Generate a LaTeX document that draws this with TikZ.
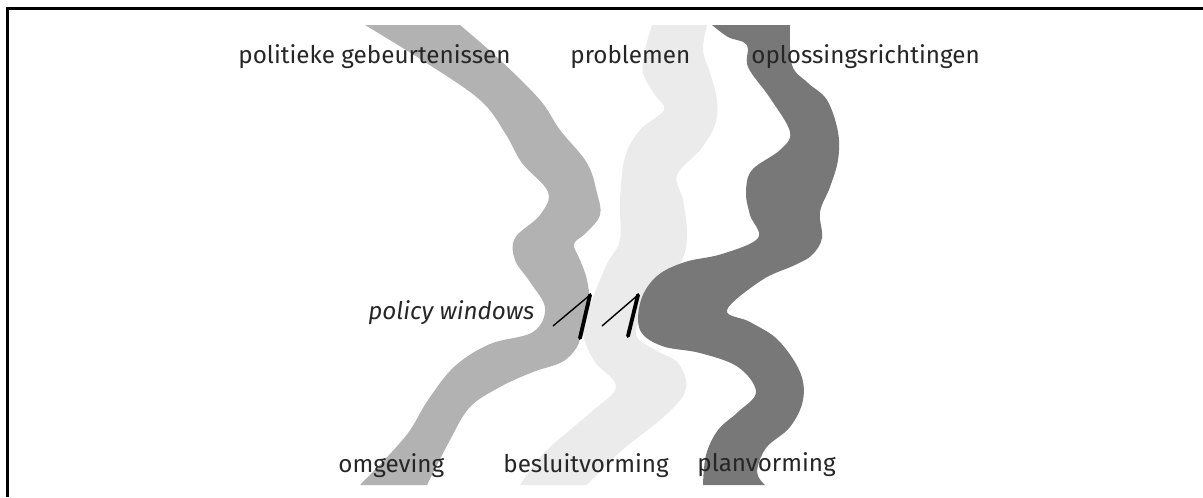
\documentclass[tikz,border=0pt]{standalone}
\usepackage{fontspec}
\setmainfont{Fira Sans}
\definecolor{envband}{gray}{0.70}
\definecolor{decband}{gray}{0.92}
\definecolor{planband}{gray}{0.47}
\definecolor{labtext}{gray}{0.15}
\tikzset{
  lab/.style={font=\fontsize{13.8}{16}\selectfont,text=labtext,inner sep=0pt,anchor=base west},
  itlab/.style={lab,font=\fontsize{13.8}{16}\selectfont\itshape},
  thinwin/.style={line width=0.8pt},
  thickwin/.style={line width=2.2pt,line cap=round},
  rimline/.style={line width=1.8pt},
}
\begin{document}
\begin{tikzpicture}[x=0.02cm,y=-0.02cm]
  \useasboundingbox (0,0) rectangle (1203,497);
  \draw[rimline] (7.5,497) -- (7.5,8.5) -- (1203,8.5);
  % omgeving
  \fill[envband] plot[smooth,tension=0.6] coordinates {(365,25) (425,62) (480,100) (505,133) (522,163) (548,192) (540,215) (515,238) (515,260) (530,282) (545,308) (533,332) (490,344) (455,366) (428,400) (405,437) (360,485)}
    -- plot[smooth,tension=0.6] coordinates {(427,485) (450,440) (470,407) (500,387) (533,372) (562,362) (577,347) (582,330) (590,310) (587,280) (580,260) (574,244) (586,233) (600,215) (597,193) (587,163) (560,130) (540,100) (500,60) (460,25)}
    -- cycle;
  % besluitvorming
  \fill[decband] plot[smooth,tension=0.6] coordinates {(652,25) (645,50) (643,73) (655,95) (664,110) (640,130) (625,157) (620,200) (620,240) (608,262) (595,292) (585,320) (584,338) (595,362) (616,387) (590,413) (545,452) (520,485)}
    -- plot[smooth,tension=0.6] coordinates {(587,485) (620,452) (668,413) (686,388) (678,363) (655,350) (636,335) (645,310) (665,282) (683,258) (687,232) (683,200) (677,175) (700,150) (715,125) (717,100) (710,73) (703,50) (707,25)}
    -- cycle;
  % planvorming
  \fill[planband] plot[smooth,tension=0.6] coordinates {(712,25) (728,37) (747,45) (748,67) (770,98) (790,132) (780,150) (752,170) (746,192) (750,215) (758,238) (722,254) (685,262) (657,276) (641,300) (640,330) (662,346) (700,353) (738,367) (756,392) (738,412) (718,430) (706,455) (703,485)}
    -- plot[smooth,tension=0.6] coordinates {(765,485) (757,472) (766,448) (790,427) (803,400) (800,372) (778,340) (750,322) (727,310) (762,280) (795,265) (812,255) (822,238) (820,212) (830,187) (838,160) (838,132) (827,100) (808,83) (792,65) (790,25)}
    -- cycle;
  % windows
  \draw[thinwin] (553,326) -- (590,295);
  \draw[thickwin] (590,295) -- (580,338);
  \draw[thinwin] (602,326) -- (638,295);
  \draw[thickwin] (638,295) -- (628,336);
  \node[lab] (politiek) at (238,63) {politieke gebeurtenissen};
  \node[lab] (problemen) at (570,63) {problemen};
  \node[lab] (oplossing) at (751,63) {oplossingsrichtingen};
  \node[itlab] (windows) at (368,319) {policy windows};
  \node[lab] (omgeving) at (338,472) {omgeving};
  \node[lab] (besluit) at (503,472) {besluitvorming};
  \node[lab] (planv) at (697,471) {planvorming};
\end{tikzpicture}
\end{document}
